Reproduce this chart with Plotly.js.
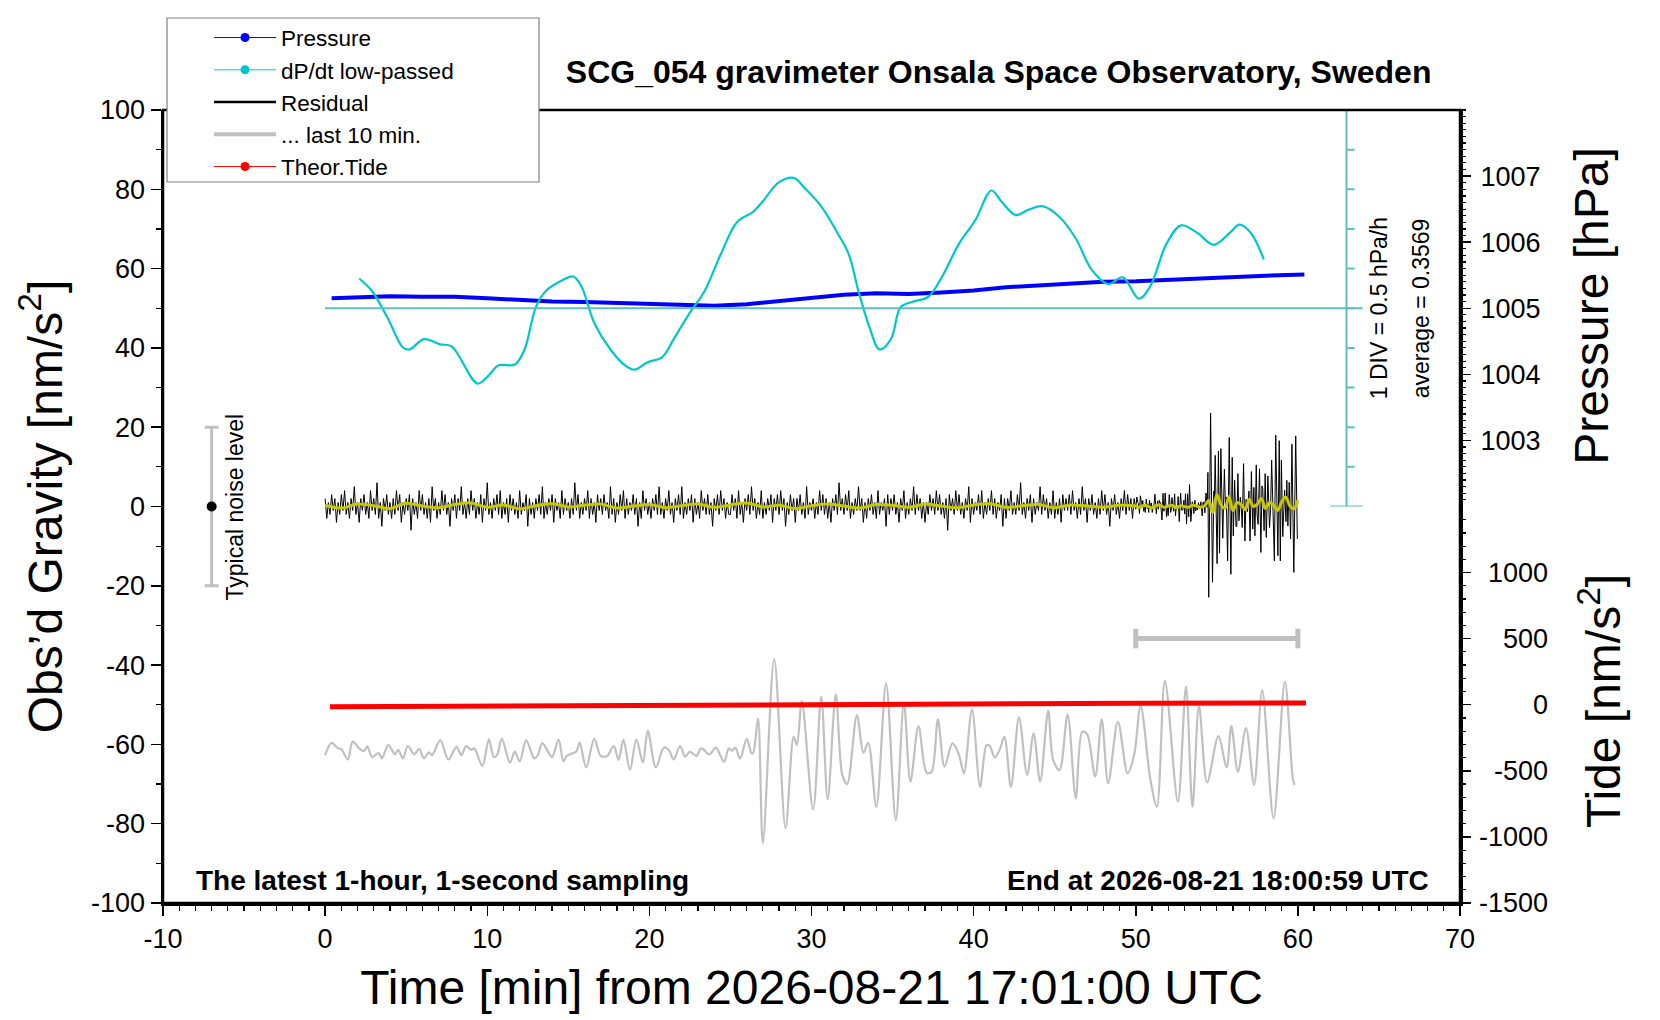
<!DOCTYPE html>
<html>
<head>
<meta charset="utf-8">
<script src="https://cdn.plot.ly/plotly-3.0.1.min.js"></script>
<style>
  html, body { margin: 0; padding: 0; background: #fff; }
  #chart { width: 1660px; height: 1020px; }
</style>
</head>
<body>
<div id="chart"></div>
<script>
// pressure [hPa] vs minutes
const pressMin = [0.4, 2, 4, 6, 8, 10, 12, 14, 16, 18, 20, 22, 24, 26, 28, 30, 32, 34, 36, 38, 40, 42, 44, 46, 48, 50, 52, 54, 56, 58, 60.4];
const pressHPa = [1005.150, 1005.168, 1005.180, 1005.174, 1005.174, 1005.150, 1005.120, 1005.102, 1005.096, 1005.078,
                  1005.060, 1005.048, 1005.036, 1005.060, 1005.108, 1005.156, 1005.204, 1005.228, 1005.216, 1005.240,
                  1005.270, 1005.318, 1005.348, 1005.384, 1005.402, 1005.408, 1005.432, 1005.450, 1005.474, 1005.492, 1005.510];

// dP/dt low-passed [hPa/h]
const dpdtMin = [2.1, 2.9, 3.85, 4.8, 5.2, 6.1, 7.1, 7.8, 9.4, 10.05, 10.7, 11.7, 12.3, 13.0, 13.6, 14.6, 15.3, 15.8, 16.6, 17.6,
                 18.5, 19.1, 19.9, 20.8, 21.5, 22.5, 23.4, 24.4, 25.4, 26.4, 27.0, 28.0, 28.9, 29.6, 30.6, 31.6, 32.3, 32.9, 33.6, 34.2,
                 34.9, 35.5, 36.2, 37.2, 38.1, 39.1, 40.1, 41.1, 41.7, 42.6, 43.4, 44.3, 45.3, 46.3, 47.3, 48.3, 49.2, 50.2, 50.9, 51.9,
                 52.8, 53.8, 54.8, 55.8, 56.4, 57.1, 57.9];
const dpdtVal = [0.375, 0.215, -0.12, -0.495, -0.52, -0.39, -0.455, -0.48, -0.95, -0.855, -0.72, -0.71, -0.52, 0.015, 0.215, 0.35, 0.40, 0.28, -0.185, -0.52,
                 -0.72, -0.775, -0.68, -0.615, -0.39, -0.055, 0.215, 0.68, 1.085, 1.215, 1.35, 1.59, 1.645, 1.51, 1.285, 0.95, 0.68, 0.215, -0.255, -0.52,
                 -0.39, 0.015, 0.08, 0.145, 0.415, 0.815, 1.11, 1.485, 1.35, 1.175, 1.245, 1.285, 1.15, 0.88, 0.48, 0.305, 0.39, 0.12, 0.28, 0.815,
                 1.045, 0.95, 0.80, 0.95, 1.055, 0.95, 0.615];
const dpdtAverage = '0.3569';
const divTicks = [-2.5, -2, -1.5, -1, -0.5, 0, 0.5, 1, 1.5, 2, 2.5];

// residual [nm/s^2], first 50 min, one value per 0.1 min
const residStep = 0.1;
const residVal = [
  2,-3,1,-2,3,-1,2,-4,1,-2,  3,-1,4,-2,1,-3,2,-1,5,-2,  1,-4,2,-1,3,-2,1,-3,4,-1,  2,-2,6,-3,1,-5,2,-1,3,-2,
  1,-3,2,-2,4,-1,3,-4,1,-2,  2,-1,3,-6,2,-2,1,-3,4,-1,  3,-2,1,-3,2,-4,5,-1,2,-3,  1,-2,4,-1,3,-2,1,-5,2,-1,
  3,-3,2,-1,5,-2,1,-3,2,-2,  4,-1,2,-3,1,-2,3,-4,2,-1,  6,-2,1,-3,2,-1,3,-2,4,-3,  1,-2,2,-4,3,-1,2,-2,1,-3,
  4,-2,1,-1,3,-5,2,-2,1,-3,  2,-1,3,-2,5,-3,1,-2,2,-1,  3,-4,2,-1,1,-3,4,-2,2,-1,  1,-3,2,-2,6,-1,3,-3,1,-2,
  2,-1,4,-3,2,-2,1,-4,3,-1,  2,-2,3,-1,1,-3,5,-2,2,-4,  1,-2,3,-1,4,-3,2,-2,1,-1,  3,-2,2,-5,1,-3,4,-1,2,-2,
  1,-3,2,-1,3,-2,5,-2,1,-3,  2,-1,4,-2,1,-4,2,-1,3,-2,  5,-3,1,-2,2,-1,3,-4,2,-2,  1,-3,4,-1,2,-2,3,-2,1,-5,
  2,-1,3,-2,4,-1,2,-3,1,-2,
  -2,3,-1,2,-3,4,-2,1,-4,2,  -1,3,-2,5,-1,2,-3,1,-2,4,  -3,1,-2,2,-1,3,-4,2,-1,3,  -2,4,-1,2,-5,1,-2,3,-1,2,
  -4,2,-1,3,-2,1,-3,5,-2,1,  -1,2,-3,1,-2,4,-1,3,-2,2,  -3,1,-4,2,-1,3,-2,6,-1,2,  -2,3,-1,4,-3,1,-2,2,-1,5,
  -1,2,-4,1,-3,2,-1,3,-2,1,  -3,4,-2,1,-1,2,-5,3,-2,2,  -1,3,-2,1,-4,2,-1,4,-3,1,  -2,2,-1,5,-2,3,-1,2,-3,1,
  -4,1,-2,3,-1,2,-2,4,-1,3,  -2,1,-3,2,-6,3,-1,2,-2,4,  -1,3,-2,1,-3,2,-1,5,-4,2,  -2,1,-1,3,-2,4,-3,1,-2,2,
  -1,4,-2,2,-3,1,-1,3,-5,2,  -3,2,-1,4,-2,1,-2,3,-1,6,  -2,1,-3,2,-1,3,-4,2,-2,1,  -1,5,-2,3,-1,2,-3,1,-2,4,
  -3,1,-2,2,-4,3,-1,2,-1,3,  -2,4,-1,1,-3,2,-2,5,-1,2,  -4,2,-1,3,-2,1,-3,2,-2,4,  -1,3,-2,1,-5,2,-1,3,-2,1,
  -3,2,-1,4,-2,3,-1,2,-3,2
];

// last 10 minutes of residual: seconds from 17:51:00, value [nm/s^2]
const lastStart = 50;
const lastSec = [0, 4, 8, 10, 14, 17, 21, 24, 26, 29, 33, 35, 39, 43, 45, 48, 51, 55, 58, 61, 64, 66, 71, 76, 81, 84, 87, 90, 92, 97,
                 101, 104, 106, 109, 114, 117, 120, 124, 129, 131, 134, 138, 140, 144, 147, 149, 153, 155, 157, 161, 166, 170, 174, 178, 181, 184, 188, 192, 196, 199,
                 204, 209, 212, 215, 219, 222, 225, 229, 232, 237, 241, 246, 249, 251, 253, 256, 260, 263, 264, 267, 270, 277, 284, 289, 291, 294, 301, 306, 310, 315,
                 319, 322, 328, 332, 335, 340, 346, 352, 357, 361, 366, 371, 374, 378, 382, 387, 391, 394, 399, 404, 408, 410, 413, 416, 419, 423, 428, 433, 437, 441,
                 446, 449, 453, 458, 463, 467, 470, 475, 479, 483, 489, 495, 499, 503, 509, 513, 518, 526, 531, 535, 539, 544, 551, 556, 559, 563, 568, 573, 578, 585,
                 592, 597, 598];
const lastRes = [-0.7, 2.4, 1.0, 0.8, -1.8, 2.7, 1.0, 0.3, 1.5, -1.2, -0.2, -1.5, 1.9, -0.5, 0.6, -1.5, 1.6, -0.5, 0.9, -1.5, 0.0, -0.7, 3.1, -1.8, 1.4, -0.7, 1.6, 0.6, 1.0, -3.4,
                 3.3, -1.2, -0.7, 3.4, -2.6, 0.2, -2.3, 3.0, -1.5, -0.9, 2.3, -0.2, -1.2, 3.2, -2.3, -0.9, -0.2, 0.2, 2.5, -3.8, 3.4, -0.9, -0.9, 1.6, -1.9, 3.2, -4.4, 3.2, -2.6, 5.5,
                 -3.8, 1.2, 0.6, -1.8, 1.6, -1.1, 0.2, -0.9, 1.0, -0.5, 1.2, -2.4, 1.0, 0.4, 1.2, -1.6, 3.4, -0.2, -0.2, 8.6, -22.9, 23.6, -19.1, 3.9, 1.9, 12.9, -14.4, 14.0, -11.8, 14.6,
                 -5.7, -8.0, 9.4, -0.1, 2.4, -13.7, 17.4, -17.1, 12.4, -7.4, 6.6, -5.1, -5.0, 8.3, -3.6, 2.3, -0.7, -5.3, 10.8, -8.7, 1.8, 1.6, -1.3, 0.6, 3.9, -8.7, 8.8, -5.7, 4.8, -7.4,
                 10.5, -1.9, -4.5, 9.5, -11.6, 5.2, 4.6, -6.1, 8.3, -7.8, 7.7, -5.3, -0.7, 11.7, -6.8, -13.7, 18.0, -12.4, 16.6, -13.7, 11.7, -7.6, 4.1, -3.8, 6.6, -4.9, 6.1, -8.2, 15.7, -16.6,
                 17.8, -7.0, -8.2];
const grayOffset = -62;     // where the stretched last-10-min trace sits
const lastBarY = -33.3;

// low-passed residual (yellow)
const lowSlow = [0.3,-0.4,0.6,0.2,-0.5,0.8,0.1,-0.3,0.5,0.9,-0.2,0.4,-0.6,0.2,0.7,-0.1,0.3,0.6,-0.4,0.1,0.5,-0.3,0.2,0.6,-0.2,0.4,
                 0.9,-0.1,0.3,-0.5,0.2,0.6,0.1,-0.4,0.5,0.3,-0.2,0.6,0.1,-0.3,0.4,0.7,-0.2,0.2,0.5,-0.3,0.4,0.1,-0.2,0.3,0.1];
const lowFast = [-0.2,0.3,0.1,-0.4,0.2,0.4,-0.2,0.1,0.3,-0.3,0.2,0,-0.2,0.3,0.1,-0.2,0.2,
                 1.5,-1.5,3,0.5,-0.5,2.5,-1,1,0.5,-0.8,1.8,0,0.6,2,-0.5,1,0.3,-1,1.2,2.4,0.2,-0.6,1.5];

// theoretical tide [nm/s^2]
const tideMin = [0.3, 10, 20, 30, 40, 50, 60.5];
const tideVal = [-15, -9, -3, 4.5, 7.5, 10.5, 13.5];

const noiseX = -7, noiseLevel = 20;

const xTicks = [-10, 0, 10, 20, 30, 40, 50, 60, 70];
const yTicks = [-100, -80, -60, -40, -20, 0, 20, 40, 60, 80, 100];
const pressTicks = [1003, 1004, 1005, 1006, 1007];
const tideTicks = [-1500, -1000, -500, 0, 500, 1000];

const FONT = 'Liberation Sans, Arial, Helvetica, sans-serif';
const CYAN = '#00c8c8', SCALE = '#5fbfbf', GRAY = '#c0c0c0';

// axis placement: pressure 996..1008 and tide -1500..4500 span the full height
const pLow = 1002.05, pHigh = 1008;
const tLow = -1500, tHigh = 1450;
const pDom = (pLow - 996) / 12;
const tDom = (tHigh + 1500) / 6000;

const residMin = residVal.map((v, i) => i * residStep);
const blackX = residMin.concat(lastSec.map(s => lastStart + s / 60));
const blackY = residVal.concat(lastRes);
const lowX = lowSlow.map((v, i) => i).concat(lowFast.map((v, i) => lastStart + 0.25 * (i + 1)));
const lowY = lowSlow.concat(lowFast);

const traces = [
  // legend keys
  {x: [null], y: [null], name: 'Pressure', mode: 'lines+markers', line: {color: '#0000ff', width: 1}, marker: {color: '#0000ff', size: 9}, legendrank: 1},
  {x: [null], y: [null], name: 'dP/dt low-passed', mode: 'lines+markers', line: {color: CYAN, width: 1}, marker: {color: CYAN, size: 9}, legendrank: 2},
  {x: [null], y: [null], name: 'Residual', mode: 'lines', line: {color: '#000', width: 2.5}, legendrank: 3},
  {x: [null], y: [null], name: '... last 10 min.', mode: 'lines', line: {color: GRAY, width: 4}, legendrank: 4},
  {x: [null], y: [null], name: 'Theor.Tide', mode: 'lines+markers', line: {color: '#ff0000', width: 1}, marker: {color: '#ff0000', size: 9}, legendrank: 5},

  // stretched last 10 min
  {x: lastSec.map(s => s / 10), y: lastRes.map(v => v + grayOffset), mode: 'lines',
   line: {color: GRAY, width: 2.2, shape: 'spline', smoothing: 0.9}, showlegend: false},
  {x: [lastStart, lastStart + 10], y: [lastBarY, lastBarY], mode: 'lines+markers',
   line: {color: GRAY, width: 5}, marker: {symbol: 'line-ns-open', size: 14, line: {color: GRAY, width: 5}}, showlegend: false},

  // residual + low-passed
  {x: blackX, y: blackY, mode: 'lines', line: {color: '#000', width: 1}, showlegend: false},
  {x: lowX, y: lowY, mode: 'lines', line: {color: '#c8c800', width: 3, shape: 'spline'}, showlegend: false},

  // noise level
  {x: [noiseX], y: [0], mode: 'markers', marker: {color: '#000', size: 10},
   error_y: {type: 'data', array: [noiseLevel], color: GRAY, thickness: 3, width: 7}, showlegend: false},

  // tide
  {x: tideMin, y: tideVal, yaxis: 'y3', mode: 'lines', line: {color: '#ff0000', width: 5}, showlegend: false},

  // pressure
  {x: pressMin, y: pressHPa, yaxis: 'y2', mode: 'lines', line: {color: '#0000ff', width: 4}, showlegend: false},

  // dP/dt
  {x: dpdtMin, y: dpdtVal, yaxis: 'y4', mode: 'lines', line: {color: CYAN, width: 2.2, shape: 'spline', smoothing: 1}, showlegend: false}
];

// dP/dt scale drawn on its own axis
const shapes = [
  {type: 'line', xref: 'x', yref: 'y4', x0: 63, x1: 63, y0: divTicks[0], y1: divTicks[divTicks.length - 1], line: {color: SCALE, width: 2}},
  {type: 'line', xref: 'x', yref: 'y4', x0: 0, x1: 64, y0: 0, y1: 0, line: {color: SCALE, width: 2}}
];
divTicks.forEach((v, i) => {
  const end = i === 0 || i === divTicks.length - 1;
  shapes.push({type: 'line', xref: 'x', yref: 'y4', x0: end ? 62 : 63, x1: end ? 64 : 63.5, y0: v, y1: v, line: {color: SCALE, width: 2}});
});
// plot frame
shapes.push({type: 'rect', xref: 'paper', yref: 'paper', x0: 0, x1: 1, y0: 0, y1: 1,
             line: {color: '#000', width: 2.5}, layer: 'above'});
// legend frame
shapes.push({type: 'rect', xref: 'paper', yref: 'paper', x0: 0.0031, x1: 0.2899, y0: 0.9092, y1: 1.116,
             fillcolor: '#fff', line: {color: '#808080', width: 1.2}, layer: 'above'});

const annotations = [
  {xref: 'paper', yref: 'paper', x: 0.0239, y: 0.029, xanchor: 'left', yanchor: 'middle', showarrow: false,
   text: '<b>The latest 1-hour, 1-second sampling</b>', font: {size: 28}},
  {xref: 'paper', yref: 'paper', x: 0.9773, y: 0.029, xanchor: 'right', yanchor: 'middle', showarrow: false,
   text: '<b>End at 2026-08-21 18:00:59 UTC</b>', font: {size: 28}},
  {xref: 'x', yref: 'y', x: noiseX + 1.44, y: 0, textangle: -90, showarrow: false, xanchor: 'center', yanchor: 'middle',
   text: 'Typical noise level', font: {size: 23}},
  {xref: 'x', yref: 'y4', x: 65.0, y: 0, textangle: -90, showarrow: false, xanchor: 'center', yanchor: 'middle',
   text: '1 DIV = 0.5 hPa/h', font: {size: 23}},
  {xref: 'x', yref: 'y4', x: 67.6, y: 0, textangle: -90, showarrow: false, xanchor: 'center', yanchor: 'middle',
   text: 'average = ' + dpdtAverage, font: {size: 23}},
  {xref: 'paper', yref: 'paper', x: 1.1018, y: 0.752, textangle: -90, showarrow: false, xanchor: 'center', yanchor: 'middle',
   text: 'Pressure [hPa]', font: {size: 48}},
  {xref: 'paper', yref: 'paper', x: 1.108, y: 0.2547, textangle: -90, showarrow: false, xanchor: 'center', yanchor: 'middle',
   text: 'Tide [nm/s<sup>2</sup>]', font: {size: 48}}
];
tideTicks.forEach(t => annotations.push({xref: 'paper', yref: 'y3', x: 1.0694, y: t, xanchor: 'right', yanchor: 'middle',
  showarrow: false, text: String(t), font: {size: 27}}));

const axisBase = {
  showgrid: false, zeroline: false, ticks: 'outside', ticklen: 10, tickwidth: 1.5, tickcolor: '#000',
  tickfont: {size: 27, color: '#000'}
};
const minorX = {tickmode: 'linear', tick0: 0, dtick: 1, ticklen: 5, tickwidth: 1.2, ticks: 'outside', tickcolor: '#000'};

const layout = {
  width: 1660, height: 1020,
  margin: {l: 163, r: 200, t: 110, b: 117, pad: 0},
  paper_bgcolor: '#fff', plot_bgcolor: 'rgba(0,0,0,0)',
  font: {family: FONT, color: '#000'},
  title: {text: '<b>SCG_054 gravimeter Onsala Space Observatory, Sweden</b>', font: {size: 32},
          xref: 'paper', x: 0.978, xanchor: 'right', yref: 'container', y: 0.930, yanchor: 'middle'},
  showlegend: true,
  legend: {x: 0.0355, y: 1.118, xanchor: 'left', yanchor: 'top', bgcolor: 'rgba(0,0,0,0)', borderwidth: 0,
           font: {size: 22.5}, itemwidth: 62, traceorder: 'normal'},
  xaxis: Object.assign({}, axisBase, {
    range: [-10, 70], tickmode: 'array', tickvals: xTicks, ticktext: xTicks.map(String),
    minor: minorX, showline: true, linewidth: 2.5, linecolor: '#000', mirror: false,
    title: {text: 'Time [min] from 2026-08-21 17:01:00 UTC', font: {size: 48}, standoff: 18}
  }),
  xaxis2: Object.assign({}, axisBase, {
    overlaying: 'x', side: 'top', anchor: 'y', range: [-10, 70], tickmode: 'array', tickvals: xTicks,
    showticklabels: false, minor: minorX, showline: false
  }),
  yaxis: Object.assign({}, axisBase, {
    range: [-100, 100], tickmode: 'array', tickvals: yTicks, ticktext: yTicks.map(String),
    minor: {tickmode: 'linear', tick0: 0, dtick: 10, ticklen: 5, tickwidth: 1.2, ticks: 'outside', tickcolor: '#000'},
    showline: true, linewidth: 2.5, linecolor: '#000', mirror: true,
    title: {text: 'Obs’d Gravity [nm/s<sup>2</sup>]', font: {size: 48}, standoff: 14}
  }),
  yaxis2: Object.assign({}, axisBase, {
    anchor: 'x', side: 'right', domain: [pDom, 1], range: [pLow, pHigh],
    tickmode: 'array', tickvals: pressTicks,
    minor: {tickmode: 'linear', tick0: 1003, dtick: 0.1, ticklen: 5, tickwidth: 1.2, ticks: 'outside', tickcolor: '#000'},
    showline: false, ticklabelstandoff: 4
  }),
  yaxis3: Object.assign({}, axisBase, {
    anchor: 'x', side: 'right', domain: [0, tDom], range: [tLow, tHigh],
    tickmode: 'linear', tick0: -1500, dtick: 500, showticklabels: false,
    minor: {tickmode: 'linear', tick0: -1500, dtick: 100, ticklen: 5, tickwidth: 1.2, ticks: 'outside', tickcolor: '#000'},
    showline: false
  }),
  yaxis4: {anchor: 'x', domain: [0.5, 1], range: [-2.5, 2.5], visible: false, showgrid: false, zeroline: false},
  shapes: shapes,
  annotations: annotations
};

Plotly.newPlot('chart', traces, layout, {displayModeBar: false, staticPlot: true});
</script>
</body>
</html>
